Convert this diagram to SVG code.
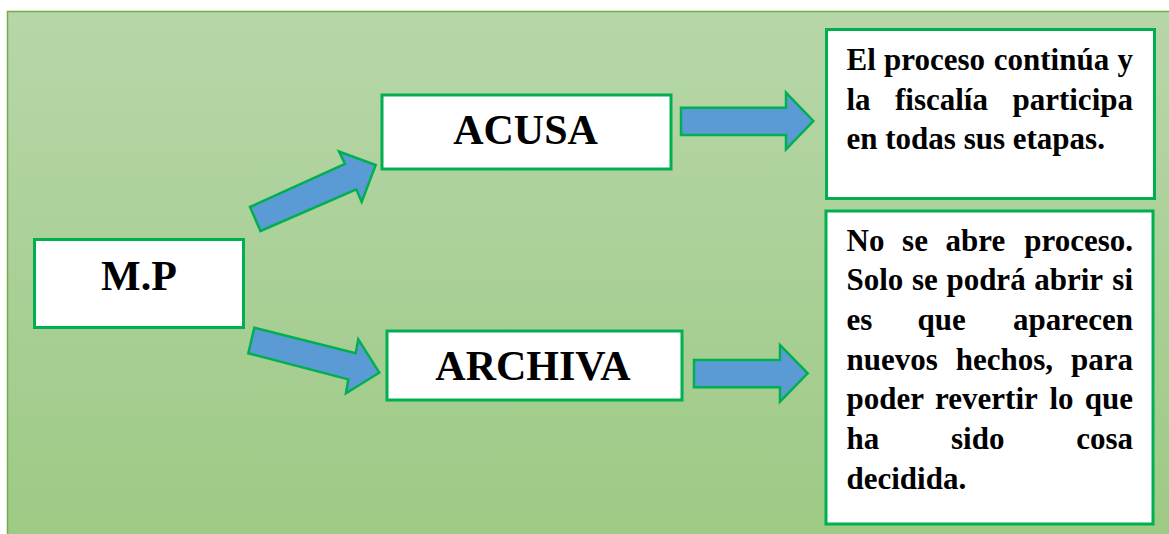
<svg xmlns="http://www.w3.org/2000/svg" width="1169" height="534" viewBox="0 0 1169 534">
<defs>
<linearGradient id="bg" x1="0" y1="0" x2="0" y2="1">
<stop offset="0" stop-color="#b7d6a9"/>
<stop offset="1" stop-color="#9dca85"/>
</linearGradient>
</defs>
<style>
.box{fill:#ffffff;stroke:#00b050;stroke-width:3}
.arr{fill:#5b9bd5;stroke:#00b050;stroke-width:2.5;stroke-linejoin:miter}
.t{font-family:"Liberation Serif","Times New Roman",serif;font-weight:bold;fill:#000}
.big{font-size:42px;text-anchor:middle}
.sm{font-size:31px}
.e{text-anchor:end}
</style>
<rect x="0" y="0" width="1169" height="534" fill="#ffffff"/>
<rect x="7" y="11" width="1162" height="523" fill="url(#bg)"/>
<path d="M7.5 534 V11.5 H1169" fill="none" stroke="#70ad47" stroke-width="1.5"/>

<g id="connectors">
<polygon class="arr" points="250,207 345,164 339,151.5 375.7,165 361.7,202 356.3,189.3 260.5,231"/>
<polygon class="arr" points="254.3,327.7 355.7,353.3 358.3,339.3 379.3,372.7 346,393.3 348.3,379.3 248.3,353.3"/>
<polygon class="arr" points="681,107.7 786,107.7 786,92.7 813.3,121 786,149.3 786,135 681,135"/>
<polygon class="arr" points="694,360 780,360 780,345 807.7,373.3 780,401.7 780,387.3 694,387.3"/>
</g>

<g id="node-mp">
<rect class="box" x="34.5" y="239.5" width="209" height="88"/>
<text class="t big" x="139" y="290">M.P</text>
</g>

<g id="node-acusa">
<rect class="box" x="382" y="95" width="289" height="74"/>
<text class="t big" x="525.5" y="144.3">ACUSA</text>
</g>

<g id="node-archiva">
<rect class="box" x="387" y="331" width="295" height="69"/>
<text class="t big" x="533" y="380">ARCHIVA</text>
</g>

<g id="node-continua">
<rect class="box" x="826.5" y="29.5" width="328" height="169"/>
<text class="t sm" y="70.3"><tspan x="846.5">El</tspan><tspan x="884">proceso</tspan><tspan x="993.8">continúa</tspan><tspan x="1133" class="e">y</tspan></text>
<text class="t sm" y="109.5"><tspan x="846.5">la</tspan><tspan x="895">fiscalía</tspan><tspan x="1133" class="e">participa</tspan></text>
<text class="t sm" x="846.5" y="148.5">en todas sus etapas.</text>
</g>

<g id="node-no-abre">
<rect class="box" x="826" y="211" width="327" height="313"/>
<text class="t sm" y="250.7"><tspan x="846.5">No</tspan><tspan x="902.1">se</tspan><tspan x="945.6">abre</tspan><tspan x="1133" class="e">proceso.</tspan></text>
<text class="t sm" y="290.4"><tspan x="846.5">Solo</tspan><tspan x="912">se</tspan><tspan x="946.4">podrá</tspan><tspan x="1034.2">abrir</tspan><tspan x="1133" class="e">si</tspan></text>
<text class="t sm" y="330"><tspan x="846.5">es</tspan><tspan x="917.5">que</tspan><tspan x="1133" class="e">aparecen</tspan></text>
<text class="t sm" y="369.7"><tspan x="846.5">nuevos</tspan><tspan x="955.7">hechos,</tspan><tspan x="1133" class="e">para</tspan></text>
<text class="t sm" y="409.3"><tspan x="846.5">poder</tspan><tspan x="935.1">revertir</tspan><tspan x="1049.5">lo</tspan><tspan x="1133" class="e">que</tspan></text>
<text class="t sm" y="449"><tspan x="846.5">ha</tspan><tspan x="951">sido</tspan><tspan x="1133" class="e">cosa</tspan></text>
<text class="t sm" x="846.5" y="488.5">decidida.</text>
</g>
</svg>
